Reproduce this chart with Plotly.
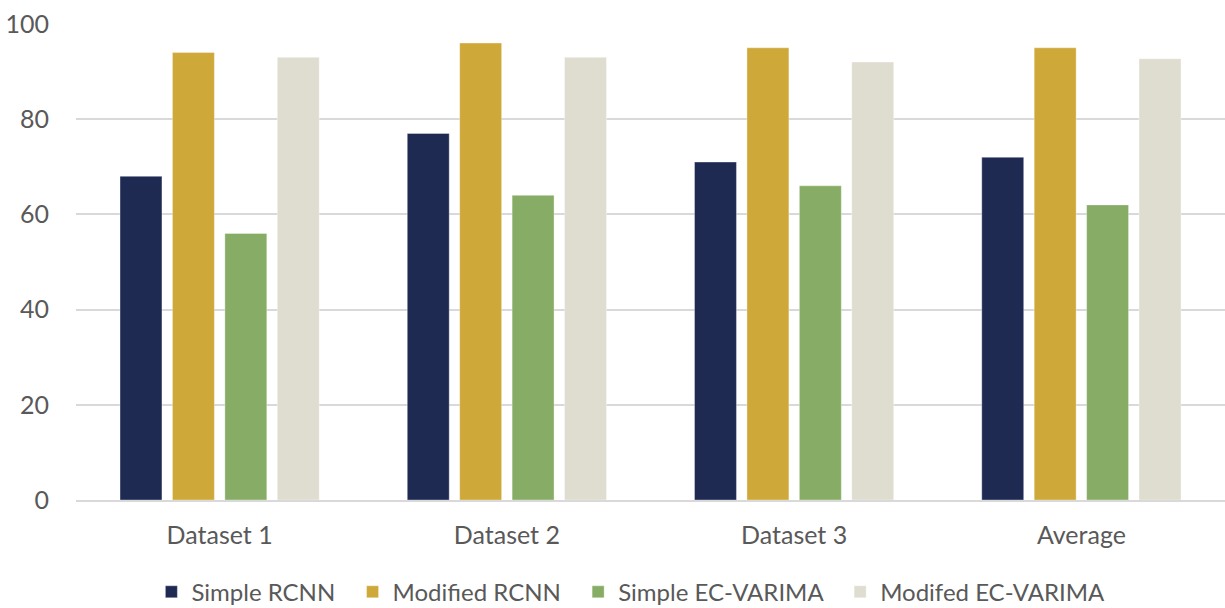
import plotly.graph_objects as go

categories = ["Dataset 1", "Dataset 2", "Dataset 3", "Average"]
simple_rcnn = [68, 77, 71, 72]
modified_rcnn = [94, 96, 95, 95]
simple_ec_varima = [56, 64, 66, 62]
modified_ec_varima = [93, 93, 92, 92.7]

series = [
    ("Simple RCNN", simple_rcnn, "#1E2A52"),
    ("Modified RCNN", modified_rcnn, "#CFA83A"),
    ("Simple EC-VARIMA", simple_ec_varima, "#87AC65"),
    ("Modifed EC-VARIMA", modified_ec_varima, "#DFDDD0"),
]

font_family = "Lato, 'Open Sans', sans-serif"
text_color = "#595959"
legend_pad = "\u00a0\u00a0"  # widens the gap between legend entries

fig = go.Figure()
for i, (name, values, color) in enumerate(series):
    label = name + (legend_pad if i < len(series) - 1 else "")
    fig.add_trace(go.Bar(
        x=categories, y=values, name=label,
        marker=dict(color=color, line=dict(color="rgba(255,255,255,0.35)", width=1)),
    ))

fig.update_layout(
    width=1225, height=608,
    paper_bgcolor="white", plot_bgcolor="white",
    margin=dict(l=76, r=0, t=24, b=108, autoexpand=False),
    barmode="group", bargap=0.27, bargroupgap=0.2,
    font=dict(family=font_family, color=text_color, size=24),
    xaxis=dict(
        showgrid=False, showline=True, linecolor="#D9D9D9", linewidth=1.5,
        ticks="", tickfont=dict(size=25, color=text_color),
        ticklabelstandoff=12, automargin=False,
    ),
    yaxis=dict(
        range=[0, 100], dtick=20, showgrid=True, gridcolor="#D9D9D9", gridwidth=1.5,
        zeroline=False, showline=False, ticks="",
        tickfont=dict(size=25, color=text_color), ticklabelstandoff=26,
        automargin=False,
    ),
    legend=dict(
        orientation="h", xref="container", x=0.515, xanchor="center",
        yref="container", y=0.026, yanchor="middle",
        bgcolor="rgba(0,0,0,0)",
        font=dict(size=24, color=text_color), itemwidth=30,
        traceorder="normal",
    ),
)

fig.write_html("out.html")
